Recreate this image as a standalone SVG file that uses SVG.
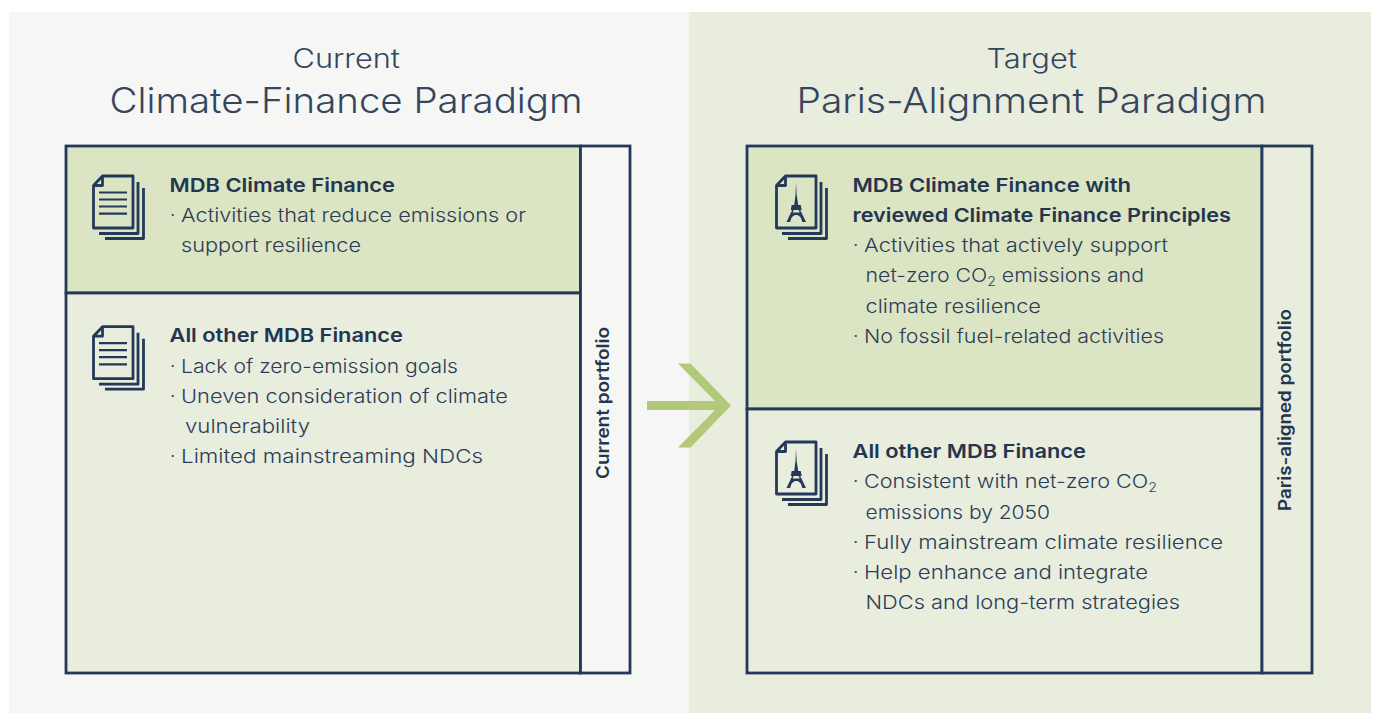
<svg xmlns="http://www.w3.org/2000/svg" width="1373" height="713" viewBox="0 0 1373 713">
<style>
text{font-family:"Inter","Noto Sans","Liberation Sans",sans-serif;fill:#34465f}
.sup{font-size:26.5px;font-weight:300}
.ttl{font-size:35px;font-weight:300}
.t{font-size:19px;font-weight:300;fill:#2b3d58}
.h{font-size:19px;font-weight:600;fill:#24364f}
.r{font-size:17.5px;font-weight:600;fill:#24364f}
.box{stroke:#24395a;stroke-width:2.8}
.pg{fill:none;stroke:#24395a;stroke-width:2.8;stroke-linejoin:round}
.ln{stroke:#24395a;stroke-width:2.2}
</style>
<defs>
<g id="stack">
<path class="pg" d="M46 7V58.500H7M51.500 13V63.500H13"/>
<path class="pg" d="M1.500 10.500L10.500 1H41V53H1.500Z"/>
<path class="pg" d="M10.500 1V10.500H1.500"/>
</g>
<g id="lines">
<path class="ln" d="M7 17.500H35M7 24.500H35M7 31.500H35M7 38.700H35"/>
</g>
<path id="eiffel" fill="#24395a" fill-rule="evenodd" d="M21 8L21.700 20L23.200 30H25.700L26.700 35H25.200L31 47H27.200C26.200 42 24.200 40 21.200 40C18.200 40 16.200 42 15.200 47H11.500L17.200 35H15.700L16.700 30H19.200L20.500 20ZM18.700 35L17.700 37.500H24.700L23.700 35Z"/>
</defs>
<rect x="9" y="12" width="680" height="701" fill="#f6f6f4"/>
<rect x="689" y="12" width="682" height="701" fill="#e9eddd"/>

<g id="title-current">
<text class="sup" x="292.500" y="68" textLength="107.500" lengthAdjust="spacingAndGlyphs">Current</text>
<text class="ttl" x="109.500" y="113" textLength="473" lengthAdjust="spacingAndGlyphs">Climate-Finance Paradigm</text>
</g>
<g id="title-target">
<text class="sup" x="986.500" y="68" textLength="90.500" lengthAdjust="spacingAndGlyphs">Target</text>
<text class="ttl" x="796.500" y="113" textLength="470" lengthAdjust="spacingAndGlyphs">Paris-Alignment Paradigm</text>
</g>

<g id="current-climate-finance">
<rect class="box" x="66" y="146" width="514.500" height="147" fill="#dbe4c3"/>
<use href="#stack" x="92" y="175"/><use href="#lines" x="92" y="175"/>
<text class="h" x="169.500" y="192" textLength="225.500" lengthAdjust="spacingAndGlyphs">MDB Climate Finance</text>
<text class="t" x="170" y="222">·</text>
<text class="t" x="181" y="222" textLength="345" lengthAdjust="spacingAndGlyphs">Activities that reduce emissions or</text>
<text class="t" x="181" y="252" textLength="180" lengthAdjust="spacingAndGlyphs">support resilience</text>
</g>
<g id="current-other-finance">
<rect class="box" x="66" y="293" width="514.500" height="380" fill="#e9eddd"/>
<use href="#stack" x="92" y="325.700"/><use href="#lines" x="92" y="325.700"/>
<text class="h" x="169.500" y="342" textLength="233.500" lengthAdjust="spacingAndGlyphs">All other MDB Finance</text>
<text class="t" x="170" y="373">·</text>
<text class="t" x="181" y="373" textLength="277" lengthAdjust="spacingAndGlyphs">Lack of zero-emission goals</text>
<text class="t" x="170" y="403">·</text>
<text class="t" x="181" y="403" textLength="327" lengthAdjust="spacingAndGlyphs">Uneven consideration of climate</text>
<text class="t" x="185" y="433" textLength="125" lengthAdjust="spacingAndGlyphs">vulnerability</text>
<text class="t" x="170" y="463">·</text>
<text class="t" x="181" y="463" textLength="302" lengthAdjust="spacingAndGlyphs">Limited mainstreaming NDCs</text>
</g>
<g id="current-portfolio">
<rect class="box" x="580.500" y="146" width="49.500" height="527" fill="#f6f6f4"/>
<text class="r" transform="translate(609 479) rotate(-90)" textLength="152" lengthAdjust="spacingAndGlyphs">Current portfolio</text>
</g>

<g id="target-climate-finance">
<rect class="box" x="747" y="146" width="515" height="263" fill="#dbe4c3"/>
<use href="#stack" x="775" y="175"/><use href="#eiffel" x="775" y="175"/>
<text class="h" x="852.500" y="192" textLength="278.500" lengthAdjust="spacingAndGlyphs">MDB Climate Finance with</text>
<text class="h" x="852.500" y="222" textLength="378.500" lengthAdjust="spacingAndGlyphs">reviewed Climate Finance Principles</text>
<text class="t" x="853" y="252">·</text>
<text class="t" x="864" y="252" textLength="304" lengthAdjust="spacingAndGlyphs">Activities that actively support</text>
<text class="t" x="865.500" y="282" textLength="278.500" lengthAdjust="spacingAndGlyphs">net-zero CO<tspan font-size="12.500" dy="4">2</tspan><tspan dy="-4"> emissions and</tspan></text>
<text class="t" x="865.500" y="313" textLength="175.500" lengthAdjust="spacingAndGlyphs">climate resilience</text>
<text class="t" x="853" y="343">·</text>
<text class="t" x="864" y="343" textLength="300" lengthAdjust="spacingAndGlyphs">No fossil fuel-related activities</text>
</g>
<g id="target-other-finance">
<rect class="box" x="747" y="409" width="515" height="264" fill="#e9eddd"/>
<use href="#stack" x="775" y="441"/><use href="#eiffel" x="775" y="441"/>
<text class="h" x="852.500" y="458" textLength="233.500" lengthAdjust="spacingAndGlyphs">All other MDB Finance</text>
<text class="t" x="853" y="488">·</text>
<text class="t" x="864" y="488" textLength="293" lengthAdjust="spacingAndGlyphs">Consistent with net-zero CO<tspan font-size="12.500" dy="4">2</tspan></text>
<text class="t" x="865.500" y="518.500" textLength="184.500" lengthAdjust="spacingAndGlyphs">emissions by 2050</text>
<text class="t" x="853" y="549">·</text>
<text class="t" x="864" y="549" textLength="359" lengthAdjust="spacingAndGlyphs">Fully mainstream climate resilience</text>
<text class="t" x="853" y="579">·</text>
<text class="t" x="864" y="579" textLength="284" lengthAdjust="spacingAndGlyphs">Help enhance and integrate</text>
<text class="t" x="865.500" y="609" textLength="314.500" lengthAdjust="spacingAndGlyphs">NDCs and long-term strategies</text>
</g>
<g id="paris-aligned-portfolio">
<rect class="box" x="1262" y="146" width="50" height="527" fill="#e9eddd"/>
<text class="r" transform="translate(1291 511) rotate(-90)" textLength="202" lengthAdjust="spacingAndGlyphs">Paris-aligned portfolio</text>
</g>

<g id="connectors">
<path fill="#b1c979" d="M647 401H715L678 363.500H690.500L731 405.500L690.500 447.500H678L715 410H647Z"/>
</g>
</svg>
